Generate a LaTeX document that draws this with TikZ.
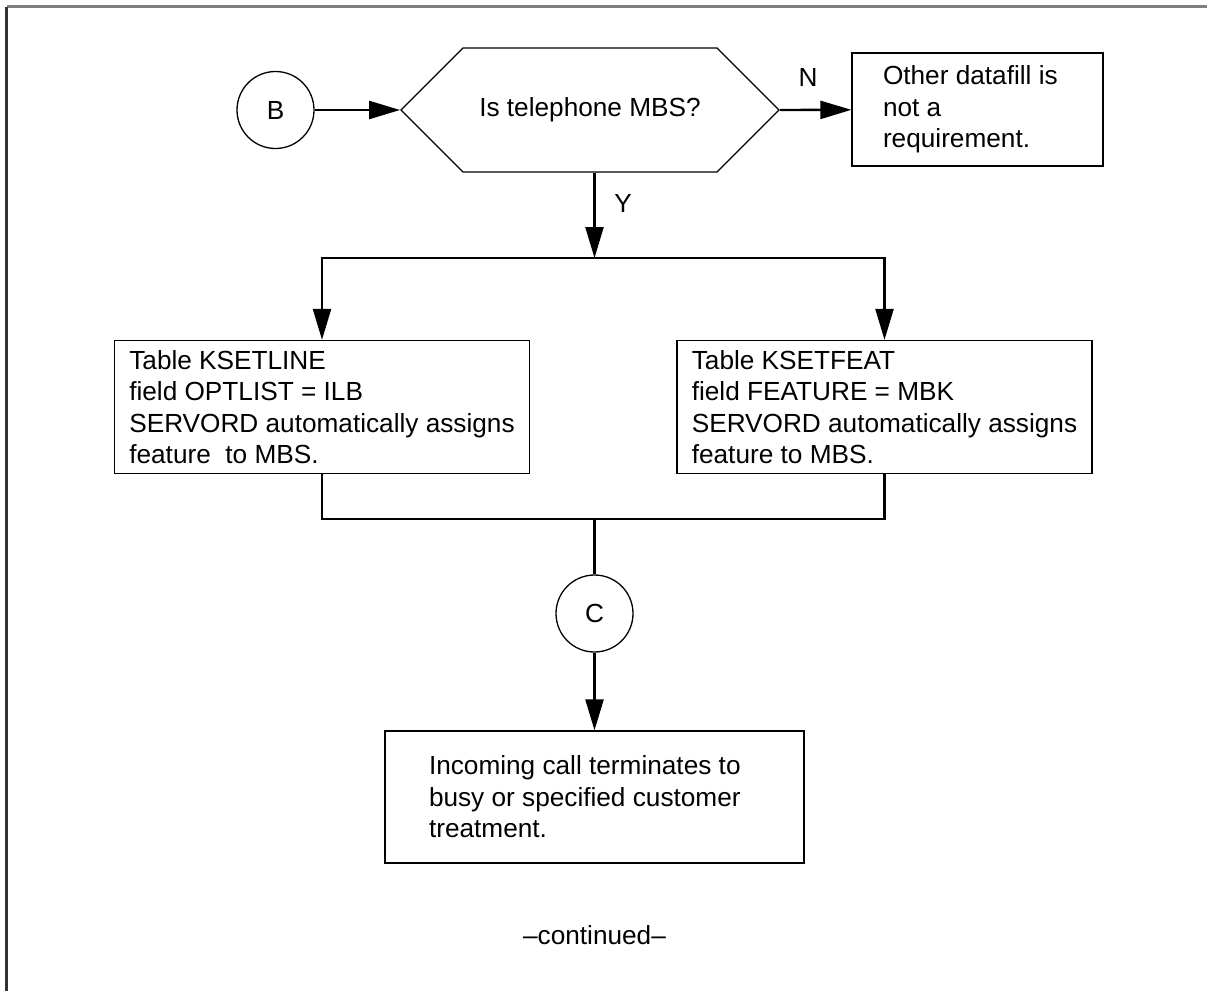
\documentclass[tikz,border=0pt]{standalone}
\usepackage{fontspec}
\setmainfont{Liberation Sans}
\usetikzlibrary{arrows.meta,shapes.symbols}

\begin{document}
\begin{tikzpicture}[x=1pt, y=-1pt, >={Triangle[length=31pt,width=18pt]},
    font=\fontsize{26.2pt}{31.5pt}\selectfont,
    outline/.style={line width=1.3pt},
    flow/.style={line width=2.4pt},
    conn/.style={draw, circle, outline, minimum size=77pt, inner sep=0pt},
    decision/.style={draw, signal, signal to=west and east, signal pointer angle=90,
        outline, minimum width=378pt, minimum height=124pt, inner sep=0pt},
    block/.style={draw, rectangle, outline, align=flush left, inner sep=0pt}]

    \useasboundingbox (0,0) rectangle (1207,991);

    % Page frame, top and left edge only
    \draw[line width=2.5pt, black!50] (6.5,6.5) -- (1207,6.5);
    \draw[line width=2.5pt, black!80] (6.5,6.5) -- (6.5,991);

    % Define nodes in the top row
    \node[conn] (B) at (275.5,110) {B};
    \node[decision] (Q) at (590,110) {Is telephone MBS?};
    \node[block, text width=189pt, inner xsep=31pt, minimum height=113pt] (other) at (977.5,109.5)
        {Other datafill is\\not a\\requirement.};

    % Define the two table boxes
    \node[block, minimum width=415pt, minimum height=133pt] (ksl) at (322,407)
        {Table KSETLINE\\field OPTLIST = ILB\\SERVORD automatically assigns\\feature\ \ to MBS.};
    \node[block, minimum width=415pt, minimum height=133pt] (ksf) at (884.5,407)
        {Table KSETFEAT\\field FEATURE = MBK\\SERVORD automatically assigns\\feature to MBS.};

    % Define connector C and the final box
    \node[conn] (C) at (594.5,613.5) {C};
    \node[block, text width=331pt, inner xsep=44pt, minimum height=132pt] (busy) at (594.5,797)
        {Incoming call terminates to\\busy or specified customer\\treatment.};
    \node (cont) at (594.5,935) {--continued--};

    % Branch and merge points
    \coordinate (split) at (594.5,258);
    \coordinate (join) at (594.5,519);

    % Draw arrows in the top row
    \draw[flow, ->] (B) -- (Q.west);
    \draw[flow, ->] (Q.east) -- (other);
    \node (nlabel) at (808,77) {N};

    % Draw the Y branch down to both tables
    \draw[flow, ->] (split |- Q.south) -- (split);
    \node (ylabel) at (623,203) {Y};
    \draw[flow, ->] (split) -| (ksl.north);
    \draw[flow, ->] (split) -| (ksf.north);

    % Draw lines merging into C and on to the last box
    \draw[flow] (ksl.south) |- (join) -| (ksf.south);
    \draw[flow] (join) -- (C);
    \draw[flow, ->] (C) -- (busy);

\end{tikzpicture}
\end{document}
